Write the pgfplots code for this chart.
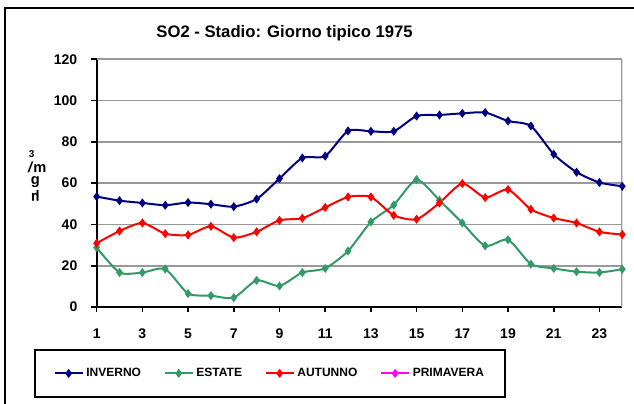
\documentclass[border=0pt]{standalone}
\usepackage{pgfplots}
\pgfplotsset{compat=1.18}
\usepackage{fontspec}
\setmainfont{Liberation Sans}
\usepackage{graphicx}
\definecolor{inv}{HTML}{000080}
\definecolor{est}{HTML}{339966}
\definecolor{aut}{HTML}{FF0000}
\definecolor{pri}{HTML}{FF00FF}
\definecolor{gridgray}{HTML}{999999}
\begin{document}
\begin{tikzpicture}
\useasboundingbox (0,0) rectangle (475.5pt,302.25pt);
\draw[line width=1.5pt] (3.4pt,-20pt) -- (3.4pt,296.25pt) -- (500pt,296.25pt);
\node[font=\bfseries\fontsize{12.5}{14}\selectfont] at (213.4pt,277.5pt) {SO2 - Stadio: Giorno tipico 1975};
\node[font=\bfseries\fontsize{7.5}{8}\selectfont, inner sep=0pt] at (23.8pt,186.5pt) {3};
\node[font=\bfseries\fontsize{11}{11}\selectfont, inner sep=0pt] at (28pt,177pt) {\textit{/}m};
\node[font=\bfseries\fontsize{11}{11}\selectfont, inner sep=0pt] at (26.6pt,165.3pt) {g};
\node[font=\bfseries\fontsize{11}{11}\selectfont, inner sep=0pt] at (26.6pt,155pt) {\rotatebox{180}{µ}};
\begin{axis}[
  at={(72.5pt,72.0pt)}, anchor=south west,
  scale only axis, width=394.2pt, height=185.8pt,
  xmin=1, xmax=24, ymin=0, ymax=120,
  xtick={1,3,...,23}, ytick={0,20,...,120},
  axis x line*=bottom, axis y line*=left,
  axis line style={black, line width=1.5pt, -},
  tick align=outside,
  major tick length=4pt,
  tick style={black, line width=1.2pt},
  ymajorgrids, grid style={gridgray, line width=1.2pt},
  ticklabel style={font=\bfseries\fontsize{10.5}{11}\selectfont},
  /pgf/number format/assume math mode=true,
  xticklabel style={yshift=-9pt},
  yticklabel style={xshift=-7pt},
  legend columns=4,
  legend style={at={(rel axis cs:0.33,-0.268)}, anchor=center, draw=black, line width=1.5pt,
    font=\bfseries\fontsize{9}{9.5}\selectfont, inner xsep=14pt, inner ysep=12pt},
  /tikz/every even column/.append style={column sep=15pt},
  legend image code/.code={\draw[mark repeat=2,mark phase=2] plot coordinates {(0cm,0cm) (0.37cm,0cm) (0.74cm,0cm)};},
  every axis plot/.append style={line width=1.5pt, smooth, tension=0.4, mark=diamond*, mark size=2.2pt, mark options={solid}},
]
\draw[gridgray, line width=1.5pt] (rel axis cs:0,1) -- (rel axis cs:1,1) -- (rel axis cs:1,0);
\addplot[inv] coordinates {(1,53.5) (2,51.5) (3,50.4) (4,49.3) (5,50.6) (6,49.8) (7,48.6) (8,52.3) (9,62.2) (10,72.2) (11,73.1) (12,85.3) (13,85.1) (14,85.1) (15,92.5) (16,93.0) (17,93.8) (18,94.2) (19,90.1) (20,87.7) (21,74.0) (22,65.3) (23,60.3) (24,58.5)};
\addlegendentry{INVERNO}
\addplot[est] coordinates {(1,28.8) (2,16.7) (3,16.7) (4,18.4) (5,6.5) (6,5.5) (7,4.5) (8,12.9) (9,10.2) (10,16.7) (11,18.7) (12,27.1) (13,41.2) (14,49.4) (15,61.7) (16,51.7) (17,40.7) (18,29.6) (19,32.6) (20,20.8) (21,18.7) (22,17.1) (23,16.7) (24,18.3)};
\addlegendentry{ESTATE}
\addplot[aut] coordinates {(1,30.9) (2,36.8) (3,40.7) (4,35.5) (5,34.9) (6,39.1) (7,33.6) (8,36.4) (9,42.0) (10,43.0) (11,48.2) (12,53.3) (13,53.3) (14,44.4) (15,42.5) (16,50.4) (17,59.8) (18,53.0) (19,56.9) (20,47.3) (21,43.1) (22,40.7) (23,36.4) (24,35.1)};
\addlegendentry{AUTUNNO}
\addlegendimage{pri, line width=1.5pt, mark=diamond*, mark size=2.2pt}
\addlegendentry{PRIMAVERA}
\end{axis}
\end{tikzpicture}
\end{document}
